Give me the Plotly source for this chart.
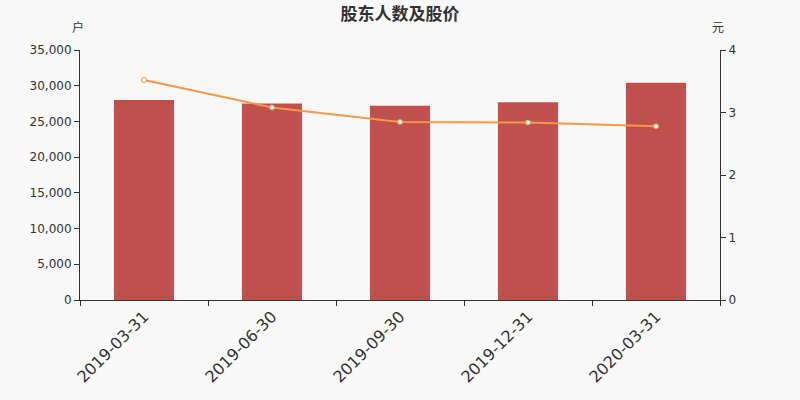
import plotly.graph_objects as go

# Data
dates = ['2019-03-31', '2019-06-30', '2019-09-30', '2019-12-31', '2020-03-31']
holders = [28000, 27500, 27200, 27700, 30400]
price = [3.52, 3.08, 2.85, 2.84, 2.78]

fig = go.Figure()

fig.add_trace(go.Bar(x=dates, y=holders, name='股东人数',
                     marker=dict(color='#c0504d', line=dict(width=0)), width=0.47))

fig.add_trace(go.Scatter(x=dates, y=price, name='股价', yaxis='y2',
                         mode='lines+markers',
                         line=dict(color='#f79646', width=2),
                         marker=dict(size=5, color='white',
                                     line=dict(color='#f79646', width=1))))

fig.update_layout(
    width=800, height=400,
    paper_bgcolor='#f8f8f8', plot_bgcolor='#f8f8f8',
    showlegend=False,
    margin=dict(l=80, r=80, t=50, b=100),
    font=dict(family='DejaVu Sans, Noto Sans CJK SC', color='#333', size=12),
    title=dict(text='<b>股东人数及股价</b>', x=0.5, y=0.965, yanchor='middle',
               font=dict(size=17, color='#333')),
    xaxis=dict(type='category', tickson='boundaries', ticks='outside', ticklen=5,
               tickcolor='#333', showline=True, linecolor='#333', showgrid=False,
               tickangle=-45, tickfont=dict(size=16, color='#333'), automargin=False),
    yaxis=dict(range=[0, 35000], dtick=5000, tickformat=',', showgrid=False,
               showline=True, linecolor='#333', ticks='outside', ticklen=5,
               tickcolor='#333', zeroline=False, automargin=False),
    yaxis2=dict(range=[0, 4], dtick=1, overlaying='y', side='right', showgrid=False,
                showline=True, linecolor='#333', ticks='outside', ticklen=5,
                tickcolor='#333', zeroline=False, automargin=False),
)

# axis unit names
fig.add_annotation(text='户', xref='paper', yref='paper', x=-0.003, y=1.088,
                   yanchor='middle', xanchor='center', showarrow=False,
                   font=dict(size=12, color='#333'))
fig.add_annotation(text='元', xref='paper', yref='paper', x=0.997, y=1.088,
                   yanchor='middle', xanchor='center', showarrow=False,
                   font=dict(size=12, color='#333'))

# page has a default body margin; drop it so the chart sits at the corner
fig.write_html("out.html", config={'displayModeBar': False},
               post_script="document.body.style.margin='0';")
